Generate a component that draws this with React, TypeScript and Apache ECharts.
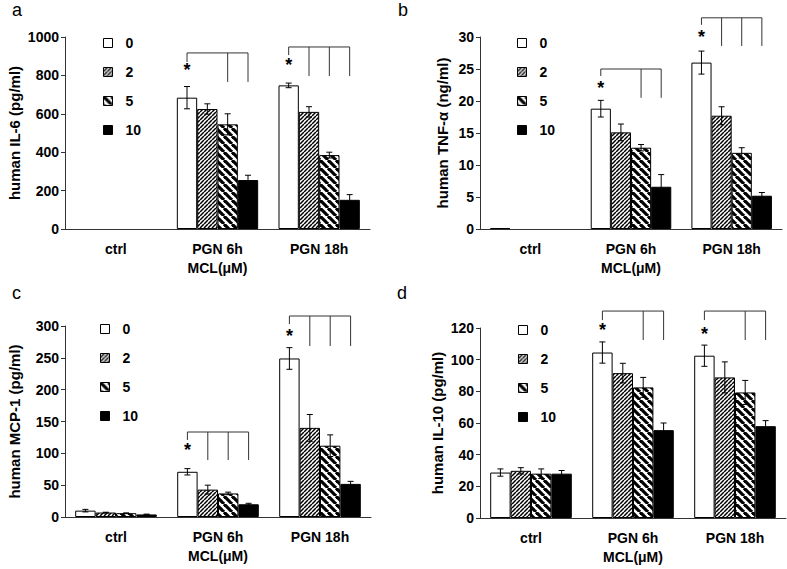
import React, { useEffect, useRef } from 'react';
import * as echarts from 'echarts';

const categories = ['ctrl', 'PGN 6h', 'PGN 18h'];
const doses = ['0', '2', '5', '10'];
const panelLetters = ['a', 'b', 'c', 'd'];
const yNames = ['human IL-6 (pg/ml)', 'human TNF-α (ng/ml)', 'human MCP-1 (pg/ml)', 'human IL-10 (pg/ml)'];
const yMax = [1000, 30, 300, 120];
const yStep = [200, 5, 50, 20];

// means[dose][category]
const il6Mean = [[0, 684, 748], [0, 625, 610], [0, 545, 385], [0, 255, 152]];
const il6Err = [[0, 58, 12], [0, 27, 27], [0, 55, 15], [0, 25, 27]];
const tnfMean = [[0.15, 18.8, 26.0], [0, 15.1, 17.7], [0, 12.7, 11.9], [0, 6.6, 5.2]];
const tnfErr = [[0, 1.3, 1.8], [0, 1.3, 1.4], [0, 0.5, 0.8], [0, 1.9, 0.5]];
const mcpMean = [[10, 71, 249], [7, 43, 140], [6, 37, 112], [4, 20, 52]];
const mcpErr = [[2, 5, 17], [0.5, 7, 21], [0.5, 2, 17], [0.5, 1.5, 4]];
const il10Mean = [[28.7, 104.5, 102.5], [29.8, 91.5, 88.8], [28, 82.5, 79.3], [28, 55.5, 58]];
const il10Err = [[2.3, 6.7, 6.7], [2, 6.2, 9.8], [3, 6.3, 7.6], [2, 4.5, 3.5]];

// significance brackets: [category, top, drop, leftTick, starY, to dose2, to dose5, to dose10]
const il6Brackets = [[1, 917, 766, 870, 826, 0, 1, 1], [2, 948, 797, 906, 852, 1, 1, 1]];
const tnfBrackets = [[1, 25, 20.5, 23.9, 22.0, 0, 1, 1], [2, 33, 28.6, 31.9, 30.0, 1, 1, 1]];
const mcpBrackets = [[1, 133.5, 89.5, 121, 106, 1, 1, 1], [2, 315.7, 268.6, 303, 284, 1, 1, 1]];
const il10Brackets = [[1, 130.7, 112.4, 125, 119, 0, 1, 1], [2, 130.7, 112.4, 125, 116.5, 0, 1, 1]];

const means = [il6Mean, tnfMean, mcpMean, il10Mean];
const errs = [il6Err, tnfErr, mcpErr, il10Err];
const brackets = [il6Brackets, tnfBrackets, mcpBrackets, il10Brackets];

const FONT = '"Liberation Sans", Arial, Helvetica, sans-serif';

const grids = [
  { left: 65, top: 37, width: 305, height: 192 },
  { left: 480, top: 37, width: 302, height: 192 },
  { left: 65, top: 326, width: 306, height: 191 },
  { left: 480, top: 328, width: 306, height: 190 },
];
const nameGaps = [43, 30, 43, 35];
const legendPos = [
  { left: 103, top: 36 },
  { left: 517, top: 36 },
  { left: 100, top: 322 },
  { left: 518, top: 323 },
];
const letterPos = [
  { left: 12, top: 1 },
  { left: 398, top: 1 },
  { left: 12, top: 284 },
  { left: 397, top: 284 },
];

function makePattern(size: number, lw: number, dir: string) {
  const c = document.createElement('canvas');
  c.width = size;
  c.height = size;
  const ctx = c.getContext('2d')!;
  ctx.fillStyle = '#fff';
  ctx.fillRect(0, 0, size, size);
  ctx.strokeStyle = '#000';
  ctx.lineWidth = lw;
  for (let k = -1; k <= 1; k++) {
    ctx.beginPath();
    if (dir === '/') {
      ctx.moveTo(k * size, size);
      ctx.lineTo(k * size + size, 0);
    } else {
      ctx.moveTo(k * size, 0);
      ctx.lineTo(k * size + size, size);
    }
    ctx.stroke();
  }
  return { image: c, repeat: 'repeat', imageWidth: size, imageHeight: size };
}

export default function App() {
  const ref = useRef<HTMLDivElement>(null);
  useEffect(() => {
    if (!ref.current) return;
    const chart = echarts.init(ref.current, null, { renderer: 'svg' });
    const fills: any[] = ['#ffffff', makePattern(4, 1.5, '/'), makePattern(8, 3.2, '\\'), '#000000'];

    const xAxis: any[] = [];
    const yAxis: any[] = [];
    const series: any[] = [];
    const legend: any[] = [];
    const graphic: any[] = [];

    grids.forEach((g, p) => {
      xAxis.push({
        type: 'category',
        gridIndex: p,
        data: categories,
        axisTick: { show: false },
        axisLine: { lineStyle: { color: '#333', width: 1 } },
        axisLabel: { color: '#000', fontFamily: FONT, fontWeight: 'bold', fontSize: 14, margin: 13 },
        name: 'MCL(μM)',
        nameLocation: 'middle',
        nameGap: 32,
        nameTextStyle: { color: '#000', fontFamily: FONT, fontWeight: 'bold', fontSize: 14 },
      });
      yAxis.push({
        type: 'value',
        gridIndex: p,
        min: 0,
        max: yMax[p],
        interval: yStep[p],
        splitLine: { show: false },
        axisLine: { show: true, lineStyle: { color: '#333', width: 1 } },
        axisTick: { show: true, length: 4, lineStyle: { color: '#333' } },
        axisLabel: {
          color: '#000',
          fontFamily: FONT,
          fontWeight: 'bold',
          fontSize: 14,
          margin: 6,
          formatter: (v: number) => String(v),
        },
        name: yNames[p],
        nameLocation: 'middle',
        nameRotate: 90,
        nameGap: nameGaps[p],
        nameTextStyle: { color: '#000', fontFamily: FONT, fontWeight: 'bold', fontSize: 15 },
      });
      doses.forEach((d, di) => {
        series.push({
          type: 'bar',
          name: d,
          xAxisIndex: p,
          yAxisIndex: p,
          data: means[p][di].map((v) => (v === 0 ? { value: 0, itemStyle: { borderWidth: 0 } } : v)),
          barGap: '0%',
          barCategoryGap: '20%',
          itemStyle: { color: fills[di], borderColor: '#000', borderWidth: 1 },
          emphasis: { disabled: true },
        });
      });
      const errData: number[][] = [];
      doses.forEach((d, di) => {
        categories.forEach((c, ci) => {
          errData.push([ci, di, means[p][di][ci], errs[p][di][ci]]);
        });
      });
      series.push({
        type: 'custom',
        xAxisIndex: p,
        yAxisIndex: p,
        z: 5,
        encode: { x: 0, y: 2 },
        data: errData,
        renderItem: (params: any, api: any) => {
          const cat = api.value(0);
          const dose = api.value(1);
          const m = api.value(2);
          const e = api.value(3);
          if (!e) return null;
          const bw = api.size([1, 0])[0];
          const barW = (bw * 0.8) / 4;
          const hi = api.coord([cat, m + e]);
          const lo = api.coord([cat, m - e]);
          const x = hi[0] + (dose - 1.5) * barW;
          const cap = 3;
          const st = { stroke: '#000', lineWidth: 1 };
          return {
            type: 'group',
            children: [
              { type: 'line', shape: { x1: x, y1: hi[1], x2: x, y2: lo[1] }, style: st },
              { type: 'line', shape: { x1: x - cap, y1: hi[1], x2: x + cap, y2: hi[1] }, style: st },
              { type: 'line', shape: { x1: x - cap, y1: lo[1], x2: x + cap, y2: lo[1] }, style: st },
            ],
          };
        },
      });
      series.push({
        type: 'custom',
        xAxisIndex: p,
        yAxisIndex: p,
        z: 5,
        clip: false,
        encode: { x: 0, y: 1 },
        data: brackets[p],
        renderItem: (params: any, api: any) => {
          const cat = api.value(0);
          const bw = api.size([1, 0])[0];
          const barW = (bw * 0.8) / 4;
          const top = api.coord([cat, api.value(1)]);
          const drop = api.coord([cat, api.value(2)])[1];
          const tick = api.coord([cat, api.value(3)])[1];
          const starY = api.coord([cat, api.value(4)])[1];
          const cx = top[0];
          const xs = [0, 1, 2, 3].map((i) => cx + (i - 1.5) * barW);
          const st = { stroke: '#333', lineWidth: 1 };
          const children: any[] = [
            { type: 'line', shape: { x1: xs[0], y1: top[1], x2: xs[3], y2: top[1] }, style: st },
            { type: 'line', shape: { x1: xs[0], y1: top[1], x2: xs[0], y2: tick }, style: st },
            {
              type: 'text',
              x: xs[0],
              y: starY,
              style: { text: '*', fill: '#000', font: `bold 18px ${FONT}`, align: 'center', verticalAlign: 'middle' },
            },
          ];
          [1, 2, 3].forEach((i) => {
            if (api.value(4 + i)) {
              children.push({ type: 'line', shape: { x1: xs[i], y1: top[1], x2: xs[i], y2: drop }, style: st });
            }
          });
          return { type: 'group', children };
        },
      });
      legend.push({
        orient: 'vertical',
        left: legendPos[p].left,
        top: legendPos[p].top,
        padding: 0,
        itemWidth: 9,
        itemHeight: 9,
        itemGap: 15,
        icon: 'rect',
        data: doses,
        selectedMode: false,
        itemStyle: { borderColor: '#000', borderWidth: 1 },
        textStyle: { color: '#000', fontFamily: FONT, fontWeight: 'bold', fontSize: 14, padding: [0, 0, 0, 8] },
      });
      graphic.push({
        type: 'text',
        left: letterPos[p].left,
        top: letterPos[p].top,
        style: { text: panelLetters[p], fill: '#000', font: `18px ${FONT}` },
      });
    });

    chart.setOption({
      animation: false,
      backgroundColor: '#fff',
      grid: grids.map((g) => ({ ...g, containLabel: false })),
      xAxis,
      yAxis,
      legend,
      series,
      graphic,
    });
    return () => chart.dispose();
  }, []);
  return <div ref={ref} style={{ position: 'absolute', left: 0, top: 0, width: 787, height: 569 }} />;
}
